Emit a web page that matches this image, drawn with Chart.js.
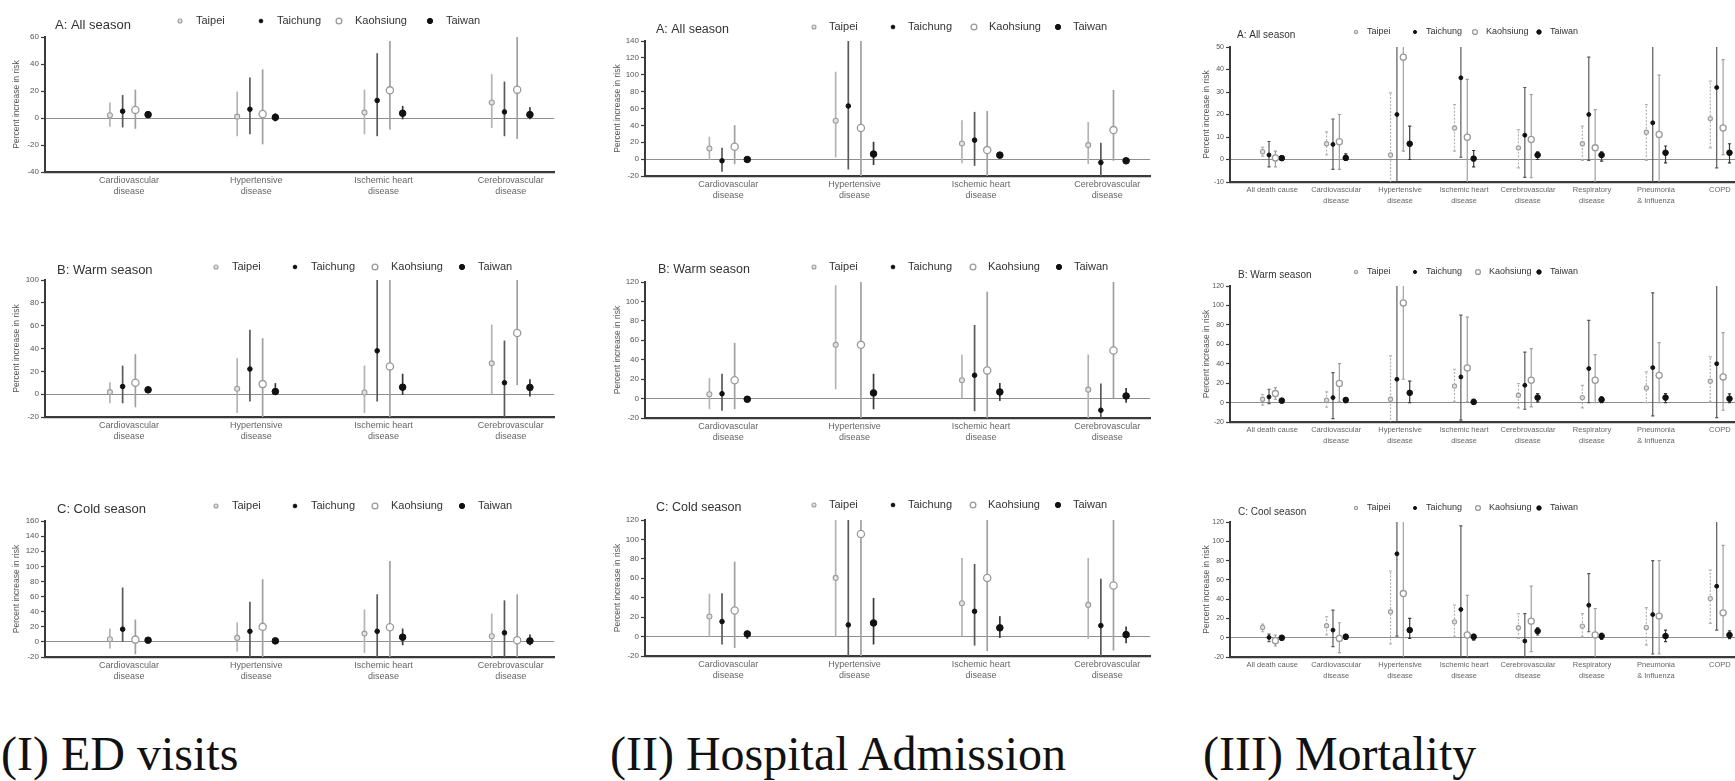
<!DOCTYPE html>
<html><head><meta charset="utf-8">
<script src="https://cdn.jsdelivr.net/npm/chart.js@4.4.1/dist/chart.umd.min.js"></script>
<style>
html,body{margin:0;padding:0;background:#fff;}
body{width:1735px;height:781px;overflow:hidden;position:relative;font-family:"Liberation Sans",Arial,sans-serif;}
canvas{position:absolute;}
.big{position:absolute;font-family:"Liberation Serif","Times New Roman",serif;font-size:48px;line-height:48px;color:#111;white-space:nowrap;}
</style></head><body>
<div class="big" style="left:1px;top:730px;">(I) ED visits</div>
<div class="big" style="left:610px;top:730px;">(II) Hospital Admission</div>
<div class="big" style="left:1203px;top:730px;">(III) Mortality</div>
<script>
// ---------- categories / labels ----------
const cities = ['Taipei', 'Taichung', 'Kaohsiung', 'Taiwan'];
const edCategories = [['Cardiovascular','disease'],['Hypertensive','disease'],['Ischemic heart','disease'],['Cerebrovascular','disease']];
const mortCategories = [['All death cause'],['Cardiovascular','disease'],['Hypertensive','disease'],['Ischemic heart','disease'],['Cerebrovascular','disease'],['Respiratory','disease'],['Pneumonia','& Influenza'],['COPD']];
const yAxisTitle = 'Percent increase in risk';

// ---------- tick values ----------
const edAllTicks = [-40,-20,0,20,40,60];
const edWarmTicks = [-20,0,20,40,60,80,100];
const edColdTicks = [-20,0,20,40,60,80,100,120,140,160];
const hospAllTicks = [-20,0,20,40,60,80,100,120,140];
const hospWarmTicks = [-20,0,20,40,60,80,100,120];
const hospColdTicks = [-20,0,20,40,60,80,100,120];
const mortAllTicks = [-10,0,10,20,30,40,50];
const mortWarmTicks = [-20,0,20,40,60,80,100,120];
const mortCoolTicks = [-20,0,20,40,60,80,100,120];

// ---------- values: [estimate, lower CI, upper CI] ----------
// (I) ED visits
const edAllTaipei    = [[2,-6.5,11.5],[1,-13.5,19.5],[4,-12,21],[11.5,-7.5,32.5]];
const edAllTaichung  = [[5,-7,17],[6.5,-12,30],[13,-13.5,48],[4.5,-13.5,27]];
const edAllKaohsiung = [[6,-8,21],[3,-19.5,36],[20.5,-8.5,57],[21,-15.5,62]];
const edAllTaiwan    = [[2.5,0,5],[0.5,-2.5,3.5],[3.5,-1,9],[2.5,-1,8]];

const edWarmTaipei    = [[1.8,-8,10.5],[4.7,-16.5,31.5],[1.5,-16.5,25],[27,0,61]];
const edWarmTaichung  = [[6.7,-8,25],[22,-6.5,56.5],[38,-6.5,110],[10,-24,47]];
const edWarmKaohsiung = [[10,-11.5,35],[8.8,-22,49],[24.3,-25,105],[53.6,8,115]];
const edWarmTaiwan    = [[3.8,1,6.7],[2.3,-0.6,9.7],[6.1,-0.6,17.9],[5.9,-2,13]];

const edColdTaipei    = [[3.5,-8.8,17.7],[5.3,-13,25.6],[11,-14.5,43],[7.5,-22,37.5]];
const edColdTaichung  = [[16.8,0,72],[14,-25,53],[14,-25,63],[12,-25,55]];
const edColdKaohsiung = [[3,-16.3,29.6],[19.9,-25,83],[19.4,-22,107],[2.2,-25,63]];
const edColdTaiwan    = [[2.2,-1.3,5.7],[1.3,-2.2,4.4],[6.2,-4.4,17.7],[1.3,-4.4,9.7]];

// (II) Hospital admission
const hospAllTaipei    = [[12.6,-1.2,26.5],[45.5,2,103.6],[18.6,-5,46],[16.6,-6,44]];
const hospAllTaichung  = [[-2,-15,13.4],[63,-12.3,150],[22.5,-8,56],[-4,-22,19.4]];
const hospAllKaohsiung = [[14.6,-6,40.3],[37,-25,150],[10.7,-25,57],[34.4,-2,82]];
const hospAllTaiwan    = [[-0.4,-3.2,2],[6,-7,20.6],[4.7,2,8.7],[-2,-4.3,1.6]];

const hospWarmTaipei    = [[4.4,-11,21],[55.3,9.6,116.7],[18.8,0,45],[9.2,-25,45.4]];
const hospWarmTaichung  = [[5,-12.6,25.6],null,[24,-13,75.8],[-12,-25,15.4]];
const hospWarmKaohsiung = [[18.8,-11,57.3],[55.3,-25,130],[29,-25,110],[49.5,0,125]];
const hospWarmTaiwan    = [[-0.7,-3.4,2.7],[5.8,-11,25.6],[6.8,-2.4,16],[2.7,-4.4,11]];

const hospColdTaipei    = [[20.6,0,44],[60.4,0,130],[34.3,0,81],[32.6,-2.4,81]];
const hospColdTaichung  = [[15.4,-8.2,44.6],[12,-25,130],[26,-9.3,74.8],[11.3,-25,59.4]];
const hospColdKaohsiung = [[26.8,-11.7,77],[105.6,-25,130],[60.4,-15,130],[52.5,-14.4,130]];
const hospColdTaiwan    = [[2.7,-2.4,6.2],[14,-8.2,39.8],[9,-1.4,21],[2,-6.9,10.3]];

// (III) Mortality
const mortAllTaipei    = [[3.5,1.5,5.5],[7,2,12.3],[2,-12,29.6],[14,3.7,24.4],[5.2,-3.7,13.3],[7,-0.4,14.8],[12.1,-0.4,24.4],[18.2,5.2,34.8]];
const mortAllTaichung  = [[2,-3.3,8],[6.7,-4.4,18],[20,-12,55],[36.3,1,55],[10.8,-7.9,32],[20,-0.4,45.5],[16.3,-12,55],[32,-3.7,55]];
const mortAllKaohsiung = [[0.7,-3.3,3.7],[7.9,-4.4,20],[45.5,3.7,55],[9.9,-12,35.6],[8.9,-8.1,28.9],[5.2,-12,22.2],[11.1,-12,37.5],[14,2.2,44.4]];
const mortAllTaiwan    = [[0.6,-0.3,1.5],[0.7,-0.3,2.5],[7,0,14.8],[0.4,-3.3,4],[2,0,3.4],[2,-0.7,3.4],[3,-1.5,6],[3,-1.5,7]];

const mortWarmTaipei    = [[3.4,-2.7,8.2],[2.4,-4.8,11],[3.4,-25,48],[17,0.7,34.3],[7.5,-5.5,19.6],[5.1,-5.5,17.8],[15.1,0,31.6],[22,0.7,47]];
const mortWarmTaichung  = [[5.8,-1,13.7],[5.1,-16.5,30.9],[24,-25,130],[26.4,-18,90],[17.8,-6.9,52],[35,0,84.7],[36,-13.7,113],[40,-15.4,130]];
const mortWarmKaohsiung = [[9.3,3.4,15.4],[19.6,0.7,40],[102.6,24,130],[35.7,0.7,88],[23,-4.5,55.6],[23,0,49.4],[28,0,61.7],[26.4,-7.9,72]];
const mortWarmTaiwan    = [[2,0,4.1],[2.7,0,5.1],[10,0,22],[0.7,-1.7,3.4],[5.1,0.7,9.3],[3,0,5.8],[5.1,0,9.3],[4,0,9]];

const mortCoolTaipei    = [[10.7,6.2,14.1],[12.4,2.8,21.7],[26.9,-6.5,69.2],[16.5,1,33.7],[10.3,-0.7,25],[12,1,25],[10.7,-7.6,31.3],[40.6,14.8,70]];
const mortCoolTaichung  = [[0.3,-4.1,3.8],[7.9,-9.3,28.6],[87,1.7,130],[29.3,-25,116],[-3.4,-25,25],[33.7,6.2,66.4],[24,-16.9,80],[53.4,7.9,130]];
const mortCoolKaohsiung = [[-3.1,-8.6,2.8],[-0.7,-15.5,15.5],[45.8,-25,130],[2.8,-25,44],[17.2,-14.5,53.4],[2.8,-25,30.3],[22.4,-16.9,80],[25.8,0,95.7]];
const mortCoolTaiwan    = [[0,-2.4,1.7],[1,-1.7,3.4],[7.9,-0.7,20],[1,-2.4,3.4],[6.9,2.8,10.3],[1.7,-1.7,4.5],[1.7,-4.1,7.9],[2.8,-1,7]];

// ---------- styles / layout ----------
const FONT = '"Liberation Sans", Arial, sans-serif';
const seriesOffsets = [-0.15, -0.05, 0.05, 0.15];
const markers = [
  {style:'circle', r:2.5, bg:'#e2e2e2', bd:'#9c9c9c', bw:1.1, err:'#b4b4b4'},
  {style:'circle', r:2.3, bg:'#111', bd:'#111', bw:1, err:'#5a5a5a'},
  {style:'circle', r:3.6, bg:'#fff', bd:'#9a9a9a', bw:1.3, err:'#a0a0a0'},
  {style:'circle', r:3.3, bg:'#111', bd:'#111', bw:1, err:'#3a3a3a'}
];
const colI   = {tick:8, xFont:9, xLine:11.5, xPad:2.3, title:13, legend:11, yTitle:8.5, yTitlePad:11.8, mk:1, errW:1.7, gap:16, dashTaipei:false, cap:0};
const colII  = {tick:8, xFont:9, xLine:11.5, xPad:2.3, title:12.5, legend:11, yTitle:8.5, yTitlePad:12.8, mk:1, errW:1.7, gap:15, dashTaipei:false, cap:0};
const colIII = {tick:7, xFont:7.5, xLine:10.5, xPad:3, title:10, legend:9, yTitle:8.5, yTitlePad:17, mk:0.85, errW:1.2, gap:11, dashTaipei:true, cap:1.6};

const panels = [
  {title:'A: All season', cats:edCategories, ticks:edAllTicks, series:[edAllTaipei,edAllTaichung,edAllKaohsiung,edAllTaiwan],
   box:{l:45,r:557,t:37,b:172}, titlePos:[55,25], legendY:21, legendX:[180,261,339,430], st:colI},
  {title:'B: Warm season', cats:edCategories, ticks:edWarmTicks, series:[edWarmTaipei,edWarmTaichung,edWarmKaohsiung,edWarmTaiwan],
   box:{l:45,r:557,t:280,b:417}, titlePos:[57,270], legendY:267, legendX:[216,295,375,462], st:colI},
  {title:'C: Cold season', cats:edCategories, ticks:edColdTicks, series:[edColdTaipei,edColdTaichung,edColdKaohsiung,edColdTaiwan],
   box:{l:45,r:557,t:521,b:657}, titlePos:[57,509], legendY:506, legendX:[216,295,375,462], st:colI},
  {title:'A: All season', cats:edCategories, ticks:hospAllTicks, series:[hospAllTaipei,hospAllTaichung,hospAllKaohsiung,hospAllTaiwan],
   box:{l:645,r:1153,t:41,b:176}, titlePos:[656,30], legendY:27, legendX:[814,893,974,1058], st:colII},
  {title:'B: Warm season', cats:edCategories, ticks:hospWarmTicks, series:[hospWarmTaipei,hospWarmTaichung,hospWarmKaohsiung,hospWarmTaiwan],
   box:{l:645,r:1153,t:282,b:418}, titlePos:[658,270], legendY:267, legendX:[814,893,973,1059], st:colII},
  {title:'C: Cold season', cats:edCategories, ticks:hospColdTicks, series:[hospColdTaipei,hospColdTaichung,hospColdKaohsiung,hospColdTaiwan],
   box:{l:645,r:1153,t:520,b:656}, titlePos:[656,508], legendY:505, legendX:[814,893,973,1058], st:colII},
  {title:'A: All season', cats:mortCategories, ticks:mortAllTicks, series:[mortAllTaipei,mortAllTaichung,mortAllKaohsiung,mortAllTaiwan],
   box:{l:1230,r:1744,t:47,b:182}, titlePos:[1237,35], legendY:32, legendX:[1356,1415,1475,1539], st:colIII},
  {title:'B: Warm season', cats:mortCategories, ticks:mortWarmTicks, series:[mortWarmTaipei,mortWarmTaichung,mortWarmKaohsiung,mortWarmTaiwan],
   box:{l:1230,r:1744,t:286,b:422}, titlePos:[1238,275], legendY:272, legendX:[1356,1415,1478,1539], st:colIII},
  {title:'C: Cool season', cats:mortCategories, ticks:mortCoolTicks, series:[mortCoolTaipei,mortCoolTaichung,mortCoolKaohsiung,mortCoolTaiwan],
   box:{l:1230,r:1744,t:522,b:657}, titlePos:[1238,512], legendY:508, legendX:[1356,1415,1478,1539], st:colIII}
];

// ---------- plugins ----------
const errorBars = {
  id:'errorBars',
  beforeDatasetsDraw(chart, args, o) {
    const {ctx, chartArea:a, scales:{x, y}} = chart;
    const cap = o.cap || 0;
    ctx.save();
    ctx.beginPath(); ctx.rect(a.left, a.top, a.right - a.left, a.bottom - a.top); ctx.clip();
    chart.data.datasets.forEach(ds => {
      ctx.strokeStyle = ds.errColor; ctx.lineWidth = ds.errWidth;
      ds.data.forEach(d => {
        if (d.y == null) return;
        const px = x.getPixelForValue(d.x);
        const yl = y.getPixelForValue(d.lo), yh = y.getPixelForValue(d.hi);
        ctx.setLineDash(ds.errDash || []);
        ctx.beginPath(); ctx.moveTo(px, yl); ctx.lineTo(px, yh); ctx.stroke();
        if (cap > 0) {
          ctx.setLineDash([]);
          ctx.beginPath();
          ctx.moveTo(px - cap, yl); ctx.lineTo(px + cap, yl);
          ctx.moveTo(px - cap, yh); ctx.lineTo(px + cap, yh);
          ctx.stroke();
        }
      });
    });
    ctx.restore();
  }
};
const header = {
  id:'header',
  afterDraw(chart, args, o) {
    const ctx = chart.ctx;
    ctx.save();
    ctx.textBaseline = 'middle'; ctx.textAlign = 'left';
    ctx.fillStyle = '#333';
    ctx.font = o.titleSize + 'px ' + FONT;
    ctx.fillText(o.title, o.titlePos[0] - o.cl, o.titlePos[1] - o.ct);
    chart.data.datasets.forEach((ds, j) => {
      const mx = o.legendX[j] - o.cl, my = o.legendY - o.ct;
      ctx.fillStyle = ds.pointBackgroundColor; ctx.strokeStyle = ds.pointBorderColor; ctx.lineWidth = ds.pointBorderWidth;
      Chart.helpers.drawPoint(ctx, {pointStyle: ds.pointStyle, radius: ds.pointRadius * 0.8, borderWidth: ds.pointBorderWidth, rotation: 0}, mx, my);
      ctx.fillStyle = '#333';
      ctx.font = o.legendSize + 'px ' + FONT;
      ctx.fillText(ds.label, mx + o.gap, my);
    });
    ctx.restore();
  }
};

// ---------- build charts ----------
panels.forEach(p => {
  const st = p.st;
  const cl = p.box.l - 45, ct = p.box.t - 40;
  const w = Math.round(p.box.r - cl + 2), h = Math.round(p.box.b - ct + 32);
  const cv = document.createElement('canvas');
  cv.width = w; cv.height = h;
  cv.style.left = cl + 'px'; cv.style.top = ct + 'px';
  cv.style.width = w + 'px'; cv.style.height = h + 'px';
  document.body.appendChild(cv);
  const n = p.cats.length;
  const datasets = p.series.map((vals, j) => {
    const m = markers[j];
    return {
      label: cities[j],
      data: vals.map((v, i) => v ? {x: i + seriesOffsets[j], y: v[0], lo: v[1], hi: v[2]} : {x: i + seriesOffsets[j], y: null}),
      showLine: false,
      pointStyle: m.style, pointRadius: m.r * st.mk, pointHoverRadius: m.r * st.mk,
      pointBackgroundColor: m.bg, pointBorderColor: m.bd, pointBorderWidth: m.bw,
      errColor: m.err, errWidth: st.errW, errDash: (st.dashTaipei && j === 0) ? [2, 1.5] : []
    };
  });
  new Chart(cv, {
    type: 'scatter',
    data: {datasets},
    plugins: [errorBars, header],
    options: {
      responsive: false, animation: false, devicePixelRatio: 1,
      layout: {padding: {top: 40, right: 2, left: 0, bottom: 0}},
      plugins: {
        legend: {display: false}, tooltip: {enabled: false}, title: {display: false},
        errorBars: {cap: st.cap},
        header: {title: p.title, titlePos: p.titlePos, legendX: p.legendX, legendY: p.legendY, cl, ct,
                 titleSize: st.title, legendSize: st.legend, gap: st.gap}
      },
      scales: {
        x: {
          type: 'linear', min: -0.66, max: n - 0.66,
          afterBuildTicks: s => { s.ticks = p.cats.map((c, i) => ({value: i})); },
          afterFit: s => { s.height = 32; },
          grid: {display: false, drawTicks: false},
          border: {display: true, color: '#3a3a3a', width: 2.2},
          ticks: {autoSkip: false, maxRotation: 0, minRotation: 0, padding: st.xPad, color: '#666',
                  font: {size: st.xFont, lineHeight: st.xLine / st.xFont, family: FONT},
                  callback: v => p.cats[v]}
        },
        y: {
          min: p.ticks[0], max: p.ticks[p.ticks.length - 1],
          afterBuildTicks: s => { s.ticks = p.ticks.map(v => ({value: v})); },
          afterFit: s => { s.width = 45; },
          grid: {drawOnChartArea: true, drawTicks: true, tickLength: 4,
                 color: c => (c.tick && c.tick.value === 0) ? '#8f8f8f' : 'rgba(0,0,0,0)',
                 tickColor: '#3a3a3a', lineWidth: 1, tickWidth: 1.2},
          border: {display: true, color: '#3a3a3a', width: 2},
          ticks: {padding: 2, color: '#555', font: {size: st.tick, family: FONT}},
          title: {display: true, text: yAxisTitle, color: '#555', font: {size: st.yTitle, family: FONT},
                  padding: {top: st.yTitlePad, bottom: 0}}
        }
      }
    }
  });
});
</script>
</body></html>
